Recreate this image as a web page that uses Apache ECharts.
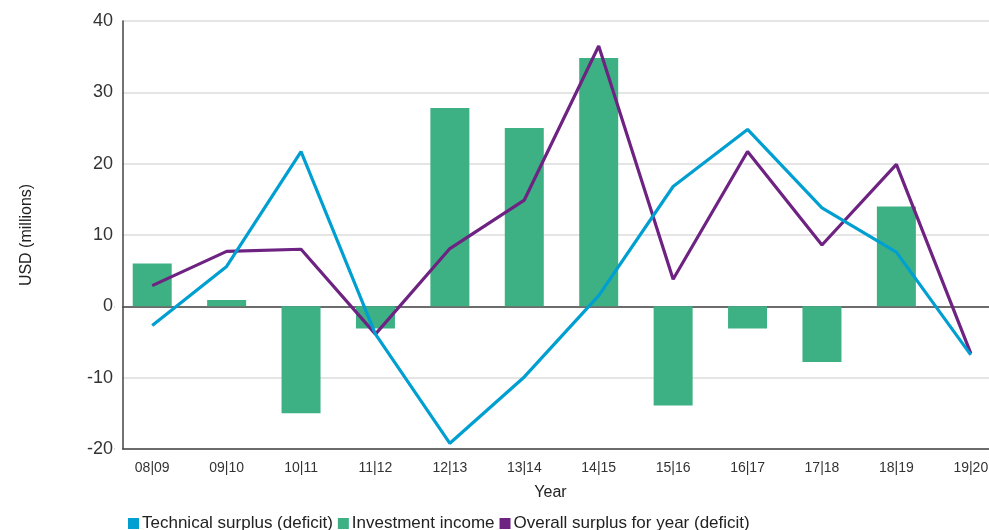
<!DOCTYPE html>
<html>
<head>
<meta charset="utf-8">
<script src="https://cdn.jsdelivr.net/npm/echarts@6/dist/echarts.min.js"></script>
<style>html,body{margin:0;padding:0;background:#fff}#c{width:989px;height:530px}</style>
</head>
<body>
<div id="c"></div>
<script>
var categories = ['08|09','09|10','10|11','11|12','12|13','13|14','14|15','15|16','16|17','17|18','18|19','19|20'];
var technical = [-2.7, 5.6, 21.7, -3.9, -19.2, -9.9, 1.5, 16.8, 24.8, 13.8, 7.6, -6.8];
var investment = [6, 0.9, -15, -3.1, 27.8, 25, 34.8, -13.9, -3.1, -7.8, 14, 0];
var overall = [2.9, 7.7, 8.0, -3.9, 8.1, 14.9, 36.5, 3.8, 21.7, 8.6, 19.9, -6.6];
var yTicks = {min: -20, max: 40, interval: 10};

var FONT = '"Liberation Sans", Arial, sans-serif';
var chart = echarts.init(document.getElementById('c'));
chart.setOption({
  animation: false,
  textStyle: {fontFamily: FONT},
  grid: {left: 115, width: 893, top: 21, height: 428, containLabel: false, outerBoundsMode: 'none'},
  legend: {
    left: 123, top: 510, itemWidth: 11, itemHeight: 11, itemGap: 5,
    icon: 'rect',
    textStyle: {fontSize: 17, color: '#222', fontFamily: FONT, padding: [0, 0, 0, -2]},
    data: ['Technical surplus (deficit)', 'Investment income', 'Overall surplus for year (deficit)']
  },
  xAxis: [{
    type: 'category', data: categories, position: 'bottom',
    name: 'Year', nameLocation: 'middle', nameGap: 36,
    nameTextStyle: {fontSize: 16, color: '#222', padding: [0, 22, 0, 0]},
    axisLine: {onZero: false, lineStyle: {color: '#444', width: 1.5}},
    axisTick: {show: false},
    axisLabel: {fontSize: 14, color: '#333', margin: 12}
  }, {
    type: 'category', data: categories, position: 'bottom',
    axisLine: {onZero: true, lineStyle: {color: '#444', width: 1.5}},
    axisTick: {show: false}, axisLabel: {show: false}
  }],
  yAxis: [{
    type: 'value', min: yTicks.min, max: yTicks.max, interval: yTicks.interval,
    offset: -8,
    name: 'USD (millions)', nameLocation: 'middle', nameGap: 88,
    nameTextStyle: {fontSize: 16, color: '#222'},
    axisLine: {show: false},
    axisTick: {show: false},
    axisLabel: {fontSize: 18, color: '#333', margin: 10},
    splitLine: {show: true, lineStyle: {color: '#dcdcdc', width: 1.5}}
  }, {
    type: 'value', min: yTicks.min, max: yTicks.max, interval: yTicks.interval,
    position: 'left', offset: -8, z: 20,
    axisLine: {show: true, lineStyle: {color: '#444', width: 1.5}},
    axisTick: {show: false}, axisLabel: {show: false}, splitLine: {show: false}
  }],
  graphic: [{
    type: 'rect', z: 1, silent: true,
    shape: {x: 114.5, y: 10, width: 7.8, height: 450},
    style: {fill: '#fff'}
  }],
  series: [{
    name: 'Technical surplus (deficit)', type: 'line', data: technical,
    showSymbol: false, z: 4,
    itemStyle: {color: '#009fd1'},
    lineStyle: {color: '#009fd1', width: 3.2}
  }, {
    name: 'Investment income', type: 'bar', data: investment,
    barWidth: 39, z: 2,
    itemStyle: {color: '#3eb184'}
  }, {
    name: 'Overall surplus for year (deficit)', type: 'line', data: overall,
    showSymbol: false, z: 3,
    itemStyle: {color: '#6e2382'},
    lineStyle: {color: '#6e2382', width: 3.2}
  }]
});
</script>
</body>
</html>
